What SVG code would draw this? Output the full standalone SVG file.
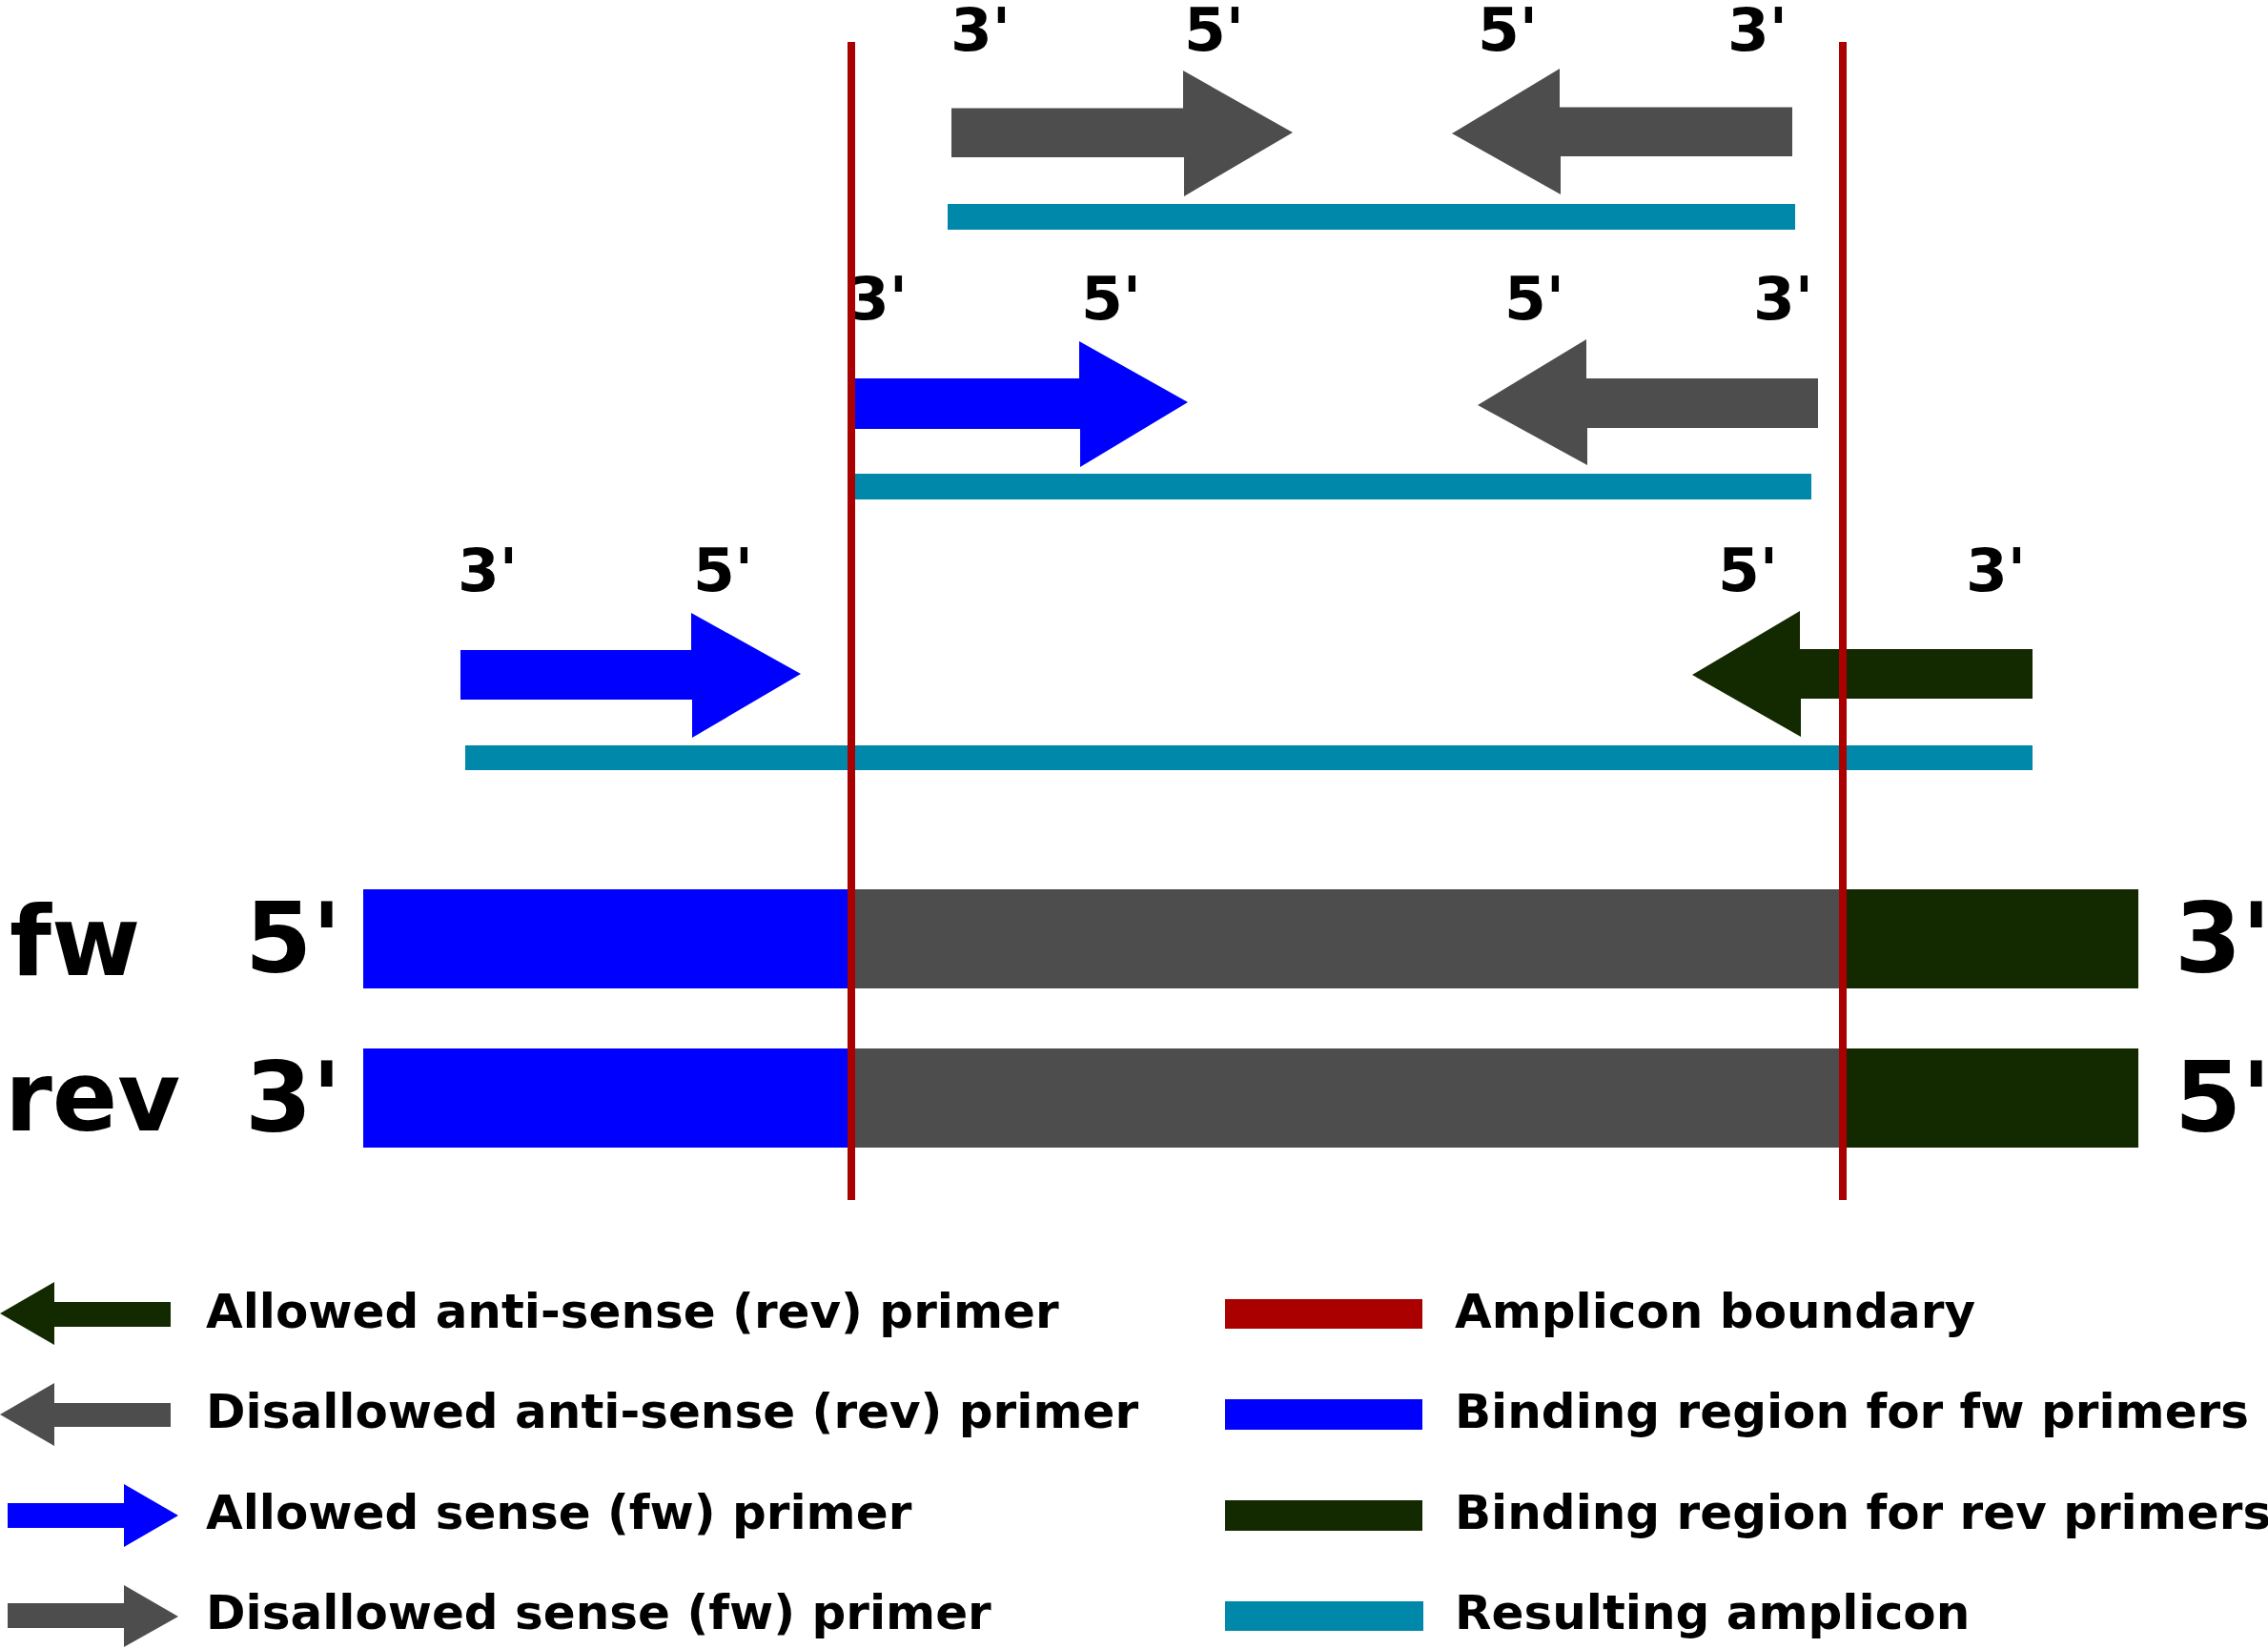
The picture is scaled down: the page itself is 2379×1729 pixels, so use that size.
<svg xmlns="http://www.w3.org/2000/svg" width="2379" height="1729" viewBox="0 0 2379 1729">
<style>
text{font-family:"DejaVu Sans","Liberation Sans",sans-serif;font-weight:bold;fill:#000}
.end{font-size:63px}
.strand{font-size:101px}
.leg{font-size:50px}
.blue{fill:#0000ff}
.gray{fill:#4d4d4d}
.green{fill:#132a00}
.teal{fill:#0088aa}
.red{fill:#aa0000}
</style>
<rect width="2379" height="1729" fill="#fff"/>

<g id="strand-fw">
<rect class="blue" x="381" y="933" width="512" height="104"/>
<rect class="gray" x="892" y="933" width="1042" height="104"/>
<rect class="green" x="1933" y="933" width="310" height="104"/>
<text class="strand" x="10" y="1023">fw</text>
<text class="strand" x="257" y="1020">5'</text>
<text class="strand" x="2281" y="1020">3'</text>
</g>
<g id="strand-rev">
<rect class="blue" x="381" y="1100" width="512" height="104"/>
<rect class="gray" x="892" y="1100" width="1042" height="104"/>
<rect class="green" x="1933" y="1100" width="310" height="104"/>
<text class="strand" x="5" y="1186">rev</text>
<text class="strand" x="257" y="1187">3'</text>
<text class="strand" x="2281" y="1187">5'</text>
</g>

<g id="row1">
<polygon class="gray" points="998,113.5 1241,113.5 1241,74 1356,139 1242,206 1242,165 998,165"/>
<polygon class="gray" points="1523,140 1636,72 1636,112.5 1880,112.5 1880,164 1637,164 1637,204"/>
<rect class="teal" x="994" y="214" width="889" height="27"/>
<text class="end" x="997" y="53">3'</text>
<text class="end" x="1242" y="53">5'</text>
<text class="end" x="1550" y="53">5'</text>
<text class="end" x="1812" y="53">3'</text>
</g>
<g id="row2">
<polygon class="blue" points="890,397 1132,397 1132,358 1246,422 1133,490 1133,450 890,450"/>
<polygon class="gray" points="1550,425 1664,356 1664,397 1907,397 1907,449 1665,449 1665,488"/>
<rect class="teal" x="890" y="497" width="1010" height="27"/>
<text class="end" x="889" y="335">3'</text>
<text class="end" x="1134" y="335">5'</text>
<text class="end" x="1578" y="335">5'</text>
<text class="end" x="1839" y="335">3'</text>
</g>
<g id="row3">
<polygon class="blue" points="483,682 725,682 725,643 840,707 726,774 726,734 483,734"/>
<polygon class="green" points="1775,708 1888,641 1888,681 2132,681 2132,733 1889,733 1889,773"/>
<rect class="teal" x="488" y="782" width="1644" height="26"/>
<text class="end" x="480" y="620">3'</text>
<text class="end" x="727" y="620">5'</text>
<text class="end" x="1802" y="620">5'</text>
<text class="end" x="2062" y="620">3'</text>
</g>

<g id="boundaries">
<rect class="red" x="889" y="44" width="8" height="1215"/>
<rect class="red" x="1929" y="44" width="8" height="1215"/>
</g>

<g id="legend">
<polygon class="green" points="0,1378 57,1345 57,1366 179,1366 179,1392 57,1392 57,1411"/>
<text class="leg" x="216" y="1393">Allowed anti-sense (rev) primer</text>
<polygon class="gray" points="0,1484 57,1451 57,1472 179,1472 179,1497 57,1497 57,1517"/>
<text class="leg" x="216" y="1498">Disallowed anti-sense (rev) primer</text>
<polygon class="blue" points="8,1577 130,1577 130,1557 187,1590 130,1623 130,1603 8,1603"/>
<text class="leg" x="216" y="1604">Allowed sense (fw) primer</text>
<polygon class="gray" points="8,1682 130,1682 130,1663 187,1696 130,1728 130,1708 8,1708"/>
<text class="leg" x="216" y="1709">Disallowed sense (fw) primer</text>

<rect class="red" x="1285" y="1363" width="207" height="31"/>
<text class="leg" x="1526" y="1393">Amplicon boundary</text>
<rect class="blue" x="1285" y="1468" width="207" height="32"/>
<text class="leg" x="1526" y="1498">Binding region for fw primers</text>
<rect class="green" x="1285" y="1574" width="207" height="32"/>
<text class="leg" x="1526" y="1604">Binding region for rev primers</text>
<rect class="teal" x="1285" y="1680" width="208" height="31"/>
<text class="leg" x="1526" y="1709">Resulting amplicon</text>
</g>
</svg>
